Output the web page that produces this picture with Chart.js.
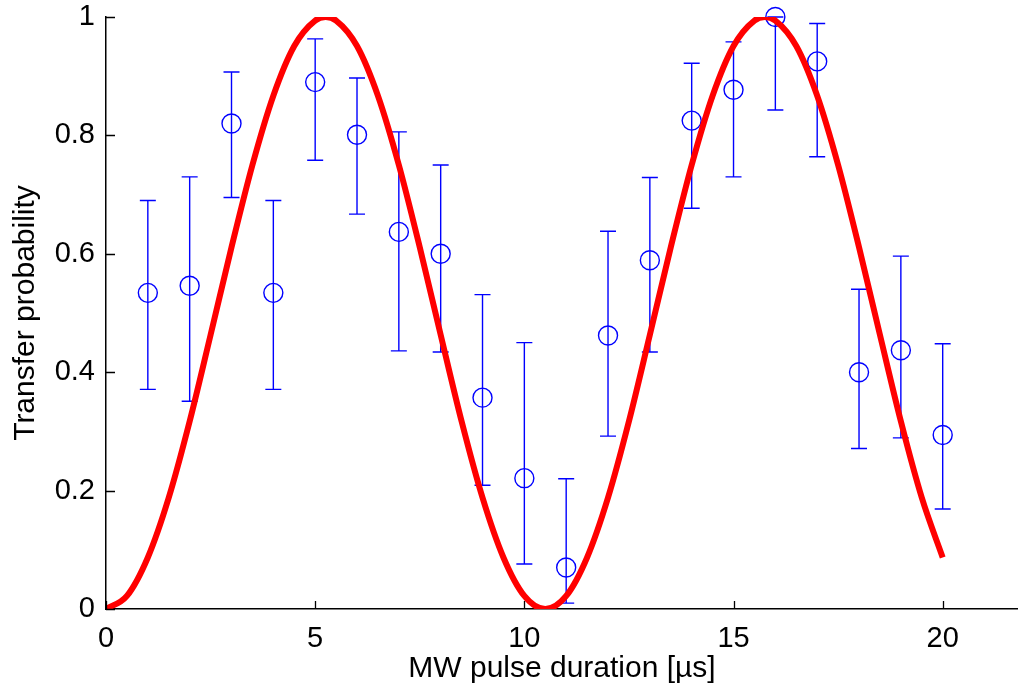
<!DOCTYPE html>
<html>
<head>
<meta charset="utf-8">
<script src="https://cdn.jsdelivr.net/npm/chart.js@4.4.1/dist/chart.umd.min.js"></script>
<style>
  html, body { margin: 0; padding: 0; background: #fff; overflow: hidden; }
  #wrap { width: 1018px; height: 691px; }
</style>
</head>
<body>
<div id="wrap"><canvas id="rabi" width="1018" height="691"></canvas></div>
<script>
// measured points (pulse duration in µs)
const pulseTimes   = [1, 2, 3, 4, 5, 6, 7, 8, 9, 10, 11, 12, 13, 14, 15, 16, 17, 18, 19, 20];
const transferProb = [0.534, 0.546, 0.820, 0.534, 0.890, 0.801, 0.637, 0.600, 0.357, 0.221,
                      0.070, 0.462, 0.589, 0.825, 0.877, 1.000, 0.925, 0.400, 0.437, 0.294];
const errLow  = [0.371, 0.351, 0.695, 0.371, 0.758, 0.667, 0.436, 0.434, 0.209, 0.076,
                 0.010, 0.292, 0.434, 0.677, 0.730, 0.843, 0.764, 0.271, 0.289, 0.169];
const errHigh = [0.690, 0.730, 0.907, 0.690, 0.963, 0.897, 0.806, 0.750, 0.531, 0.450,
                 0.220, 0.638, 0.729, 0.922, 0.958, 1.000, 0.989, 0.540, 0.596, 0.448];

// fitted curve, read every 0.5 µs plus the two maxima
const fitTimes = [0, 0.5, 1, 1.5, 2, 2.5, 3, 3.5, 4, 4.5, 5, 5.25, 5.5, 6, 6.5, 7, 7.5, 8, 8.5, 9, 9.5,
                  10, 10.5, 11, 11.5, 12, 12.5, 13, 13.5, 14, 14.5, 15, 15.5, 15.75, 16, 16.5, 17, 17.5,
                  18, 18.5, 19, 19.5, 20];
const fitProb  = [0, 0.022, 0.087, 0.188, 0.317, 0.463, 0.611, 0.750, 0.867, 0.951, 0.994, 1,
                  0.994, 0.951, 0.867, 0.750, 0.611, 0.463, 0.317, 0.188, 0.087, 0.022, 0,
                  0.022, 0.087, 0.188, 0.317, 0.463, 0.611, 0.750, 0.867, 0.951, 0.994, 1,
                  0.994, 0.951, 0.867, 0.750, 0.611, 0.463, 0.317, 0.188, 0.087];

const xTicks = [0, 5, 10, 15, 20];
const yTicks = [0, 0.2, 0.4, 0.6, 0.8, 1];

const BLUE = '#0000ff';
const FONT = 'Liberation Sans, Arial, Helvetica, sans-serif';

// vertical error bars with caps, under the datasets
const errorBars = {
  id: 'errorBars',
  beforeDatasetsDraw(chart) {
    const {ctx, scales: {x, y}} = chart;
    ctx.save();
    ctx.strokeStyle = BLUE;
    ctx.lineWidth = 1.4;
    const cap = 8;
    pulseTimes.forEach((t, i) => {
      const px = x.getPixelForValue(t);
      const lo = y.getPixelForValue(errLow[i]);
      const hi = y.getPixelForValue(errHigh[i]);
      ctx.beginPath();
      ctx.moveTo(px, lo); ctx.lineTo(px, hi);
      ctx.moveTo(px - cap, lo); ctx.lineTo(px + cap, lo);
      ctx.moveTo(px - cap, hi); ctx.lineTo(px + cap, hi);
      ctx.stroke();
    });
    ctx.restore();
  }
};

// matlab style ticks pointing into the axes
const innerTicks = {
  id: 'innerTicks',
  afterDraw(chart) {
    const {ctx, chartArea: a, scales: {x, y}} = chart;
    ctx.save();
    ctx.strokeStyle = '#000';
    ctx.lineWidth = 1.3;
    ctx.beginPath();
    xTicks.forEach(v => {
      const px = Math.round(x.getPixelForValue(v)) + 0.5;
      ctx.moveTo(px, a.bottom); ctx.lineTo(px, a.bottom - 8);
    });
    yTicks.forEach(v => {
      const py = Math.round(y.getPixelForValue(v)) + 0.5;
      ctx.moveTo(a.left, py); ctx.lineTo(a.left + 9, py);
    });
    ctx.stroke();
    ctx.restore();
  }
};

new Chart(document.getElementById('rabi'), {
  type: 'scatter',
  data: {
    datasets: [
      {
        type: 'line',
        data: fitTimes.map((t, i) => ({x: t, y: fitProb[i]})),
        borderColor: '#ff0000',
        borderWidth: 6,
        pointRadius: 0,
        cubicInterpolationMode: 'monotone',
        fill: false,
        clip: 0
      },
      {
        data: pulseTimes.map((t, i) => ({x: t, y: transferProb[i]})),
        pointStyle: 'circle',
        pointRadius: 9.5,
        pointHoverRadius: 9.5,
        borderColor: BLUE,
        borderWidth: 1.4,
        backgroundColor: 'rgba(0,0,0,0)',
        clip: false
      }
    ]
  },
  options: {
    responsive: false,
    animation: false,
    events: [],
    layout: { autoPadding: false, padding: { top: 17, right: 0, left: 0, bottom: 0 } },
    plugins: { legend: { display: false }, tooltip: { enabled: false } },
    scales: {
      x: {
        type: 'linear',
        min: 0, max: 21.8,
        afterBuildTicks: s => { s.ticks = xTicks.map(v => ({value: v})); },
        afterFit: s => { s.height = 82; s.paddingLeft = 0; s.paddingRight = 0; },
        grid: { display: false },
        border: { display: true, color: '#000', width: 1.5 },
        ticks: { color: '#000', padding: 5, maxRotation: 0, font: { family: FONT, size: 29 } },
        title: {
          display: true, text: 'MW pulse duration [µs]', color: '#000',
          font: { family: FONT, size: 30 }, padding: { top: 0, bottom: 4 }
        }
      },
      y: {
        min: 0, max: 1,
        afterBuildTicks: s => { s.ticks = yTicks.map(v => ({value: v})); },
        afterFit: s => { s.width = 106; s.paddingTop = 0; s.paddingBottom = 0; },
        grid: { display: false },
        border: { display: true, color: '#000', width: 1.5 },
        ticks: {
          color: '#000', padding: 3, font: { family: FONT, size: 29 },
          callback: v => String(+v.toFixed(1))
        },
        title: {
          display: true, text: 'Transfer probability', color: '#000',
          font: { family: FONT, size: 30 }, padding: { top: 8, bottom: 0 }
        }
      }
    }
  },
  plugins: [errorBars, innerTicks]
});
</script>
</body>
</html>
